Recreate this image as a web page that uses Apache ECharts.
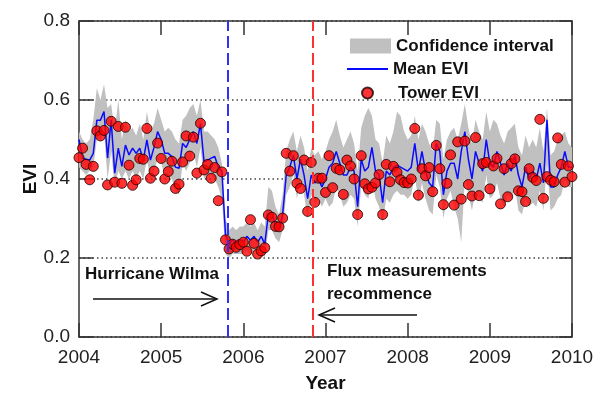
<!DOCTYPE html>
<html><head><meta charset="utf-8">
<script src="https://cdn.jsdelivr.net/npm/echarts@6/dist/echarts.min.js"></script>
<style>html,body{margin:0;padding:0;background:#fff}#c{width:601px;height:393px}</style>
</head><body><div id="c"></div>
<script>
// ---- data (16-day composites, 23 per year, starting 2004) ----
const startYear = 2004;
const compositesPerYear = 23;
const xTicks = ['2004', '2005', '2006', '2007', '2008', '2009', '2010'];
const yTicks = ['0.0', '0.2', '0.4', '0.6', '0.8'];
const hurricaneWilma = 2005.81;
const fluxRecommence = 2006.84;

const towerEVI = [
 0.454,0.478,0.437,0.398,0.432,0.522,0.509,0.523,0.385,0.546,0.392,0.533,0.389,0.531,0.435,0.384,0.398,0.452,0.450,0.528,0.402,0.420,0.491,
 0.452,0.400,0.419,0.445,0.376,0.387,0.443,0.509,0.458,0.506,0.415,0.541,0.423,0.437,0.402,0.429,0.345,0.418,0.246,0.223,0.235,0.227,0.234,
 0.240,0.217,0.297,0.237,0.210,0.218,0.226,0.309,0.303,0.280,0.279,0.301,0.465,0.420,0.459,0.389,0.376,0.448,0.318,0.442,0.341,0.402,0.402,
 0.366,0.459,0.378,0.427,0.423,0.361,0.448,0.433,0.400,0.310,0.459,0.388,0.375,0.379,0.390,0.411,0.310,0.437,0.393,0.432,0.417,0.398,0.391,
 0.390,0.400,0.528,0.359,0.426,0.408,0.429,0.368,0.485,0.426,0.335,0.389,0.461,0.334,0.494,0.349,0.496,0.386,0.357,0.505,0.358,0.439,0.442,
 0.375,0.433,0.452,0.337,0.426,0.355,0.439,0.451,0.370,0.368,0.343,0.426,0.404,0.396,0.551,0.351,0.406,0.397,0.393,0.504,0.437,0.392,0.433,
 0.406
];
const meanEVI = [
 0.50,0.453,0.45,0.448,0.465,0.549,0.549,0.571,0.453,0.549,0.415,0.478,0.432,0.486,0.461,0.478,0.465,0.478,0.448,0.499,0.448,0.48,0.52,
 0.50,0.465,0.465,0.457,0.43,0.427,0.49,0.48,0.50,0.52,0.49,0.54,0.444,0.448,0.453,0.457,0.43,0.42,0.26,0.235,0.245,0.24,0.245,
 0.24,0.255,0.245,0.255,0.24,0.255,0.235,0.31,0.31,0.285,0.27,0.31,0.41,0.43,0.46,0.40,0.45,0.41,0.35,0.41,0.39,0.40,0.38,
 0.40,0.43,0.44,0.47,0.44,0.41,0.41,0.43,0.42,0.33,0.45,0.42,0.43,0.48,0.42,0.41,0.34,0.42,0.41,0.43,0.435,0.43,0.425,
 0.42,0.43,0.49,0.42,0.47,0.42,0.39,0.38,0.49,0.47,0.36,0.42,0.44,0.44,0.40,0.47,0.52,0.45,0.40,0.47,0.44,0.42,0.50,
 0.44,0.43,0.47,0.44,0.41,0.44,0.42,0.46,0.41,0.38,0.43,0.40,0.42,0.40,0.44,0.39,0.55,0.38,0.38,0.41,0.43,0.47,0.43,
 0.43
];
const ciUpper = [
 0.52,0.50,0.49,0.50,0.55,0.63,0.60,0.64,0.58,0.59,0.52,0.60,0.50,0.55,0.52,0.53,0.51,0.54,0.50,0.57,0.52,0.54,0.58,
 0.55,0.52,0.53,0.52,0.50,0.49,0.55,0.56,0.58,0.59,0.56,0.60,0.52,0.52,0.51,0.50,0.48,0.44,0.30,0.27,0.28,0.27,0.28,
 0.28,0.29,0.28,0.29,0.27,0.29,0.28,0.38,0.37,0.33,0.31,0.36,0.47,0.50,0.52,0.47,0.51,0.48,0.42,0.48,0.46,0.47,0.45,
 0.47,0.50,0.52,0.55,0.51,0.48,0.50,0.52,0.49,0.42,0.53,0.56,0.58,0.56,0.50,0.49,0.44,0.51,0.49,0.52,0.57,0.56,0.52,
 0.50,0.51,0.56,0.50,0.54,0.52,0.49,0.47,0.55,0.54,0.45,0.50,0.52,0.53,0.50,0.54,0.59,0.53,0.49,0.55,0.52,0.50,0.57,
 0.52,0.55,0.54,0.51,0.49,0.52,0.53,0.54,0.48,0.46,0.51,0.48,0.50,0.48,0.53,0.47,0.58,0.46,0.47,0.50,0.51,0.52,0.49,
 0.48
];
const ciLower = [
 0.43,0.42,0.41,0.42,0.43,0.50,0.50,0.52,0.40,0.47,0.38,0.42,0.40,0.42,0.40,0.42,0.40,0.42,0.40,0.45,0.40,0.42,0.45,
 0.44,0.41,0.41,0.40,0.37,0.36,0.44,0.42,0.44,0.47,0.43,0.48,0.40,0.41,0.41,0.40,0.38,0.35,0.21,0.20,0.21,0.21,0.21,
 0.21,0.22,0.21,0.22,0.21,0.22,0.20,0.27,0.27,0.25,0.24,0.27,0.36,0.38,0.41,0.35,0.40,0.36,0.30,0.36,0.34,0.35,0.33,
 0.35,0.33,0.34,0.38,0.36,0.33,0.34,0.36,0.35,0.28,0.38,0.36,0.35,0.40,0.35,0.33,0.29,0.35,0.34,0.36,0.37,0.36,0.36,
 0.35,0.36,0.41,0.34,0.39,0.35,0.32,0.31,0.41,0.38,0.30,0.35,0.37,0.33,0.30,0.24,0.40,0.36,0.32,0.37,0.35,0.34,0.41,
 0.35,0.36,0.39,0.35,0.33,0.36,0.35,0.38,0.32,0.31,0.35,0.33,0.34,0.33,0.37,0.32,0.44,0.32,0.33,0.35,0.36,0.40,0.38,
 0.38
];

// ---- chart ----
const times = towerEVI.map((_, i) => startYear + i / compositesPerYear);
const FONT = "'Liberation Sans', Arial, Helvetica, sans-serif";
const chart = echarts.init(document.getElementById('c'), null, {renderer: 'canvas'});

const axisLineStyle = {color: '#333', width: 1.5};
const bandData = times.map((t, i) => [t, ciLower[i], ciUpper[i]]);
const xMin = Number(xTicks[0]), xMax = Number(xTicks[xTicks.length - 1]);

const legendBase = {
  orient: 'horizontal', padding: 0, itemGap: 0, selectedMode: false,
  textStyle: {fontFamily: FONT, fontSize: 17, fontWeight: 'bold', color: '#111'}
};

chart.setOption({
  animation: false,
  backgroundColor: '#fff',
  textStyle: {fontFamily: FONT},
  grid: {left: 79, right: 29, top: 21, bottom: 56, containLabel: false, outerBoundsMode: 'none'},
  xAxis: [{
    type: 'value', min: xMin, max: xMax, interval: 1, position: 'bottom',
    axisLine: {onZero: false, lineStyle: axisLineStyle},
    axisTick: {inside: true, length: 14, lineStyle: axisLineStyle},
    axisLabel: {fontFamily: FONT, fontSize: 19, color: '#222', margin: 11,
      formatter: v => xTicks[Math.round(v - xMin)]},
    splitLine: {show: false},
    name: 'Year', nameLocation: 'middle', nameGap: 37, nameMoveOverlap: false,
    nameTextStyle: {fontFamily: FONT, fontSize: 19, fontWeight: 'bold', color: '#111'}
  }, {
    type: 'value', min: xMin, max: xMax, interval: 1, position: 'top',
    axisLine: {onZero: false, lineStyle: axisLineStyle},
    axisTick: {inside: true, length: 14, lineStyle: axisLineStyle},
    axisLabel: {show: false}, splitLine: {show: false}
  }],
  yAxis: [{
    type: 'value', min: 0, max: 0.8, interval: 0.2, position: 'left',
    axisLine: {onZero: false, lineStyle: axisLineStyle},
    axisTick: {inside: true, length: 14, lineStyle: axisLineStyle},
    axisLabel: {fontFamily: FONT, fontSize: 19, color: '#222', margin: 9,
      formatter: v => yTicks[Math.round(v / 0.2)]},
    splitLine: {show: true, lineStyle: {color: '#444', width: 1.5, type: [1.5, 3]}},
    name: 'EVI', nameLocation: 'middle', nameGap: 39, nameRotate: 90, nameMoveOverlap: false,
    nameTextStyle: {fontFamily: FONT, fontSize: 19, fontWeight: 'bold', color: '#111'}
  }, {
    type: 'value', min: 0, max: 0.8, interval: 0.2, position: 'right',
    axisLine: {onZero: false, lineStyle: axisLineStyle},
    axisTick: {inside: true, length: 13, lineStyle: axisLineStyle},
    axisLabel: {show: false}, splitLine: {show: false}
  }],
  legend: [
    Object.assign({}, legendBase, {left: 350, top: 37.5, itemWidth: 41, itemHeight: 15,
      data: [{name: 'Confidence interval', icon: 'rect', itemStyle: {color: '#c0c0c0'}}]}),
    Object.assign({}, legendBase, {left: 347, top: 60.5, itemWidth: 41, itemHeight: 2,
      data: [{name: 'Mean EVI', icon: 'rect', itemStyle: {color: '#0a0aff'}}]}),
    Object.assign({}, legendBase, {left: 361, top: 84.5, itemWidth: 11, itemHeight: 11,
      textStyle: Object.assign({}, legendBase.textStyle, {padding: [0, 0, 0, 20]}),
      data: [{name: 'Tower EVI', icon: 'circle'}]})
  ],
  series: [{
    name: 'Confidence interval', type: 'custom', silent: true, z: 1,
    itemStyle: {color: '#c0c0c0'},
    encode: {x: 0, y: [1, 2]},
    data: bandData,
    renderItem: function (params, api) {
      if (params.dataIndexInside !== 0) return null;
      const top = bandData.map(d => api.coord([d[0], d[2]]));
      const bot = bandData.map(d => api.coord([d[0], d[1]])).reverse();
      return {type: 'polygon', shape: {points: top.concat(bot)}, style: {fill: '#c0c0c0', stroke: null}};
    }
  }, {
    name: 'Mean EVI', type: 'line', z: 3, symbol: 'none', silent: true,
    color: '#0a0aff',
    lineStyle: {color: '#0a0aff', width: 1.5},
    data: times.map((t, i) => [t, meanEVI[i]]),
    markLine: {
      silent: true, symbol: 'none', label: {show: false}, animation: false,
      data: [
        {xAxis: hurricaneWilma, lineStyle: {color: '#2f2fff', width: 2, type: [12, 5]}},
        {xAxis: fluxRecommence, lineStyle: {color: '#ff3030', width: 2, type: [12, 5]}}
      ]
    }
  }, {
    name: 'Tower EVI', type: 'scatter', z: 4, symbol: 'circle', symbolSize: 10, silent: true,
    itemStyle: {color: '#ff0000', borderColor: '#1a0000', borderWidth: 1},
    data: times.map((t, i) => [t, towerEVI[i]])
  }],
  graphic: [
    {type: 'text', silent: true, style: {text: 'Hurricane Wilma', x: 85, y: 274, verticalAlign: 'middle', textVerticalAlign: 'middle',
      font: "bold 17px 'Liberation Sans', Arial, sans-serif", fill: '#111'}},
    {type: 'text', silent: true, style: {text: 'Flux measurements', x: 327, y: 271, verticalAlign: 'middle', textVerticalAlign: 'middle',
      font: "bold 17px 'Liberation Sans', Arial, sans-serif", fill: '#111'}},
    {type: 'text', silent: true, style: {text: 'recommence', x: 327, y: 294, verticalAlign: 'middle', textVerticalAlign: 'middle',
      font: "bold 17px 'Liberation Sans', Arial, sans-serif", fill: '#111'}},
    {type: 'polyline', silent: true, shape: {points: [[93, 299], [217, 299]]}, style: {stroke: '#111', lineWidth: 1.5, fill: null}},
    {type: 'polyline', silent: true, shape: {points: [[201, 292], [217, 299], [201, 306]]}, style: {stroke: '#111', lineWidth: 1.5, fill: null}},
    {type: 'polyline', silent: true, shape: {points: [[417, 315], [319, 315]]}, style: {stroke: '#111', lineWidth: 1.5, fill: null}},
    {type: 'polyline', silent: true, shape: {points: [[335, 308], [319, 315], [335, 322]]}, style: {stroke: '#111', lineWidth: 1.5, fill: null}}
  ]
});
</script>
</body></html>
